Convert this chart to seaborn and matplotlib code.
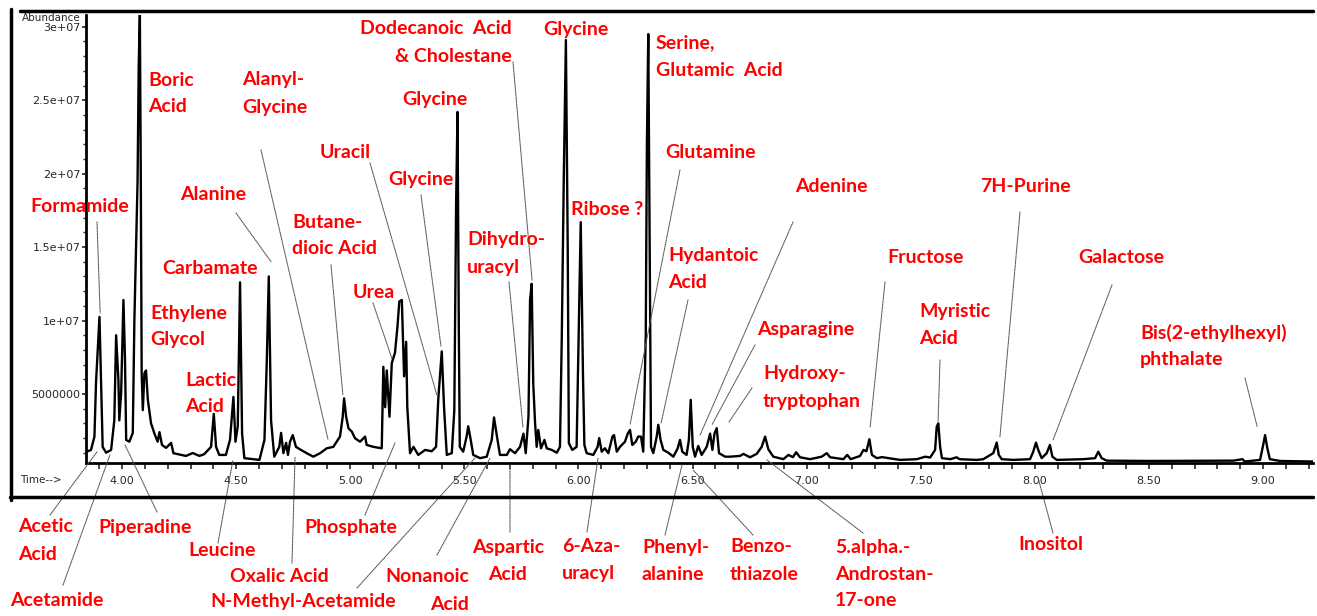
import matplotlib
matplotlib.use("Agg")
import matplotlib.pyplot as plt
from matplotlib.lines import Line2D
from matplotlib.ticker import MultipleLocator, FixedLocator
import seaborn as sns
import pandas as pd

# retention time (min) and abundance (millions)
time_min = [
    3.842, 3.864, 3.879, 3.886, 3.901, 3.908, 3.915, 3.930, 3.952, 3.966,
    3.974, 3.984, 3.988, 3.996, 4.006, 4.013, 4.018, 4.032, 4.047, 4.054,
    4.068, 4.073, 4.078, 4.082, 4.086, 4.091, 4.098, 4.105, 4.113, 4.127,
    4.142, 4.156, 4.164, 4.175, 4.193, 4.215, 4.225, 4.280, 4.310, 4.339,
    4.360, 4.390, 4.402, 4.412, 4.426, 4.455, 4.473, 4.488, 4.497, 4.507,
    4.517, 4.526, 4.536, 4.602, 4.624, 4.634, 4.643, 4.653, 4.667, 4.689,
    4.697, 4.707, 4.719, 4.727, 4.736, 4.748, 4.762, 4.784, 4.809, 4.838,
    4.868, 4.897, 4.926, 4.955, 4.967, 4.973, 4.982, 4.992, 5.007, 5.021,
    5.043, 5.065, 5.072, 5.101, 5.138, 5.145, 5.153, 5.160, 5.172, 5.182,
    5.196, 5.207, 5.215, 5.226, 5.236, 5.245, 5.250, 5.262, 5.277, 5.298,
    5.328, 5.357, 5.376, 5.386, 5.401, 5.411, 5.423, 5.445, 5.456, 5.464,
    5.470, 5.476, 5.480, 5.495, 5.510, 5.517, 5.528, 5.539, 5.569, 5.598,
    5.620, 5.630, 5.642, 5.656, 5.686, 5.700, 5.722, 5.744, 5.759, 5.769,
    5.781, 5.788, 5.795, 5.802, 5.810, 5.817, 5.824, 5.836, 5.851, 5.861,
    5.883, 5.905, 5.919, 5.927, 5.936, 5.945, 5.953, 5.958, 5.966, 5.973,
    5.992, 5.999, 6.010, 6.020, 6.026, 6.036, 6.065, 6.084, 6.091, 6.102,
    6.116, 6.131, 6.149, 6.156, 6.168, 6.182, 6.204, 6.216, 6.226, 6.236,
    6.251, 6.262, 6.274, 6.284, 6.295, 6.300, 6.306, 6.312, 6.318, 6.328,
    6.343, 6.350, 6.360, 6.372, 6.394, 6.416, 6.435, 6.445, 6.455, 6.474,
    6.484, 6.492, 6.501, 6.511, 6.525, 6.540, 6.562, 6.577, 6.587, 6.596,
    6.606, 6.616, 6.643, 6.664, 6.708, 6.723, 6.752, 6.781, 6.803, 6.818,
    6.832, 6.854, 6.898, 6.920, 6.940, 6.954, 6.971, 7.015, 7.066, 7.088,
    7.103, 7.161, 7.178, 7.193, 7.234, 7.249, 7.262, 7.275, 7.286, 7.308,
    7.330, 7.410, 7.483, 7.520, 7.541, 7.563, 7.570, 7.577, 7.585, 7.593,
    7.630, 7.657, 7.670, 7.745, 7.774, 7.818, 7.833, 7.842, 7.855, 7.906,
    7.979, 7.993, 8.005, 8.015, 8.030, 8.052, 8.066, 8.077, 8.096, 8.212,
    8.264, 8.278, 8.293, 8.315, 8.505, 8.870, 8.910, 8.920, 8.987, 8.999,
    9.009, 9.019, 9.030, 9.074, 9.220,
]
abundance_m = [
    1.05, 1.19, 2.10, 5.80, 10.25, 5.70, 1.40, 1.00, 1.19, 3.20,
    9.00, 5.95, 3.20, 5.10, 11.40, 7.30, 1.87, 1.75, 2.35, 10.00,
    19.50, 27.40, 30.80, 20.00, 6.40, 3.90, 6.40, 6.60, 4.60, 3.00,
    2.30, 1.75, 2.40, 1.53, 1.33, 1.67, 0.97, 0.78, 0.98, 0.78,
    0.90, 1.40, 3.64, 1.40, 0.85, 0.85, 1.87, 4.80, 1.75, 2.80,
    12.60, 2.30, 0.63, 0.51, 1.87, 7.10, 13.00, 3.20, 0.73, 1.40,
    2.35, 0.97, 1.67, 0.85, 1.75, 2.20, 1.40, 1.19, 0.97, 0.73,
    0.97, 1.30, 1.40, 2.10, 3.45, 4.70, 3.45, 2.67, 2.43, 1.98,
    1.75, 2.10, 1.53, 1.40, 1.30, 6.85, 4.10, 6.60, 3.45, 7.10,
    7.80, 9.60, 11.30, 11.40, 6.20, 8.55, 4.10, 0.97, 1.40, 0.85,
    1.19, 1.10, 1.40, 4.70, 7.90, 4.10, 0.85, 0.97, 3.90, 18.00,
    24.20, 8.90, 1.40, 1.07, 2.10, 2.80, 1.87, 0.85, 0.63, 0.73,
    1.87, 3.40, 2.20, 0.85, 0.85, 1.24, 0.97, 1.40, 2.30, 0.97,
    3.45, 11.40, 12.50, 5.70, 3.00, 1.40, 2.55, 1.30, 1.87, 1.30,
    1.19, 1.00, 1.40, 8.90, 20.00, 29.10, 15.00, 1.65, 1.40, 1.19,
    1.40, 7.30, 16.70, 6.20, 1.53, 0.97, 0.85, 1.40, 2.00, 1.07,
    1.30, 0.97, 2.10, 2.20, 1.07, 1.40, 1.75, 2.30, 2.55, 1.53,
    1.75, 2.10, 2.10, 1.07, 9.10, 22.00, 29.50, 15.00, 1.40, 0.97,
    2.10, 2.90, 1.87, 1.19, 1.00, 0.73, 1.30, 1.87, 1.07, 0.85,
    1.87, 4.60, 1.40, 0.73, 1.46, 0.85, 1.40, 2.30, 1.19, 2.30,
    2.67, 0.97, 0.73, 0.73, 0.78, 0.92, 0.69, 0.92, 1.40, 2.10,
    1.24, 0.73, 0.56, 0.85, 0.70, 1.03, 0.69, 0.56, 0.73, 0.97,
    0.69, 0.56, 0.85, 0.56, 0.78, 1.19, 1.10, 1.92, 0.85, 0.63,
    0.70, 0.51, 0.56, 0.73, 0.67, 1.19, 2.77, 3.00, 1.40, 0.63,
    0.56, 0.69, 0.56, 0.51, 0.56, 0.97, 1.69, 0.85, 0.56, 0.51,
    0.56, 1.07, 1.69, 1.19, 0.63, 0.97, 1.53, 0.73, 0.51, 0.56,
    0.63, 1.07, 0.63, 0.46, 0.44, 0.46, 0.56, 0.40, 0.51, 1.40,
    2.20, 1.30, 0.56, 0.44, 0.40,
]

ytick_values = [5e6, 1e7, 1.5e7, 2e7, 2.5e7, 3e7]
ytick_labels = ['5000000', '1e+07', '1.5e+07', '2e+07', '2.5e+07', '3e+07']

# compound labels: text, x px, y px (first line centre), alignment
labels = [
    ('Formamide', 30, 206, 'left'),
    ('Boric\nAcid', 148, 80, 'left'),
    ('Alanyl-\nGlycine', 242, 80, 'left'),
    ('Alanine', 180, 195, 'left'),
    ('Carbamate', 162, 268, 'left'),
    ('Ethylene\nGlycol', 150, 313, 'left'),
    ('Lactic\nAcid', 185, 380, 'left'),
    ('Butane-\ndioic Acid', 292, 222, 'left'),
    ('Uracil', 320, 152, 'left'),
    ('Urea', 353, 292, 'left'),
    ('Glycine', 388, 180, 'left'),
    ('Glycine', 402, 99, 'left'),
    ('Dodecanoic  Acid\n& Cholestane', 512, 29, 'right'),
    ('Glycine', 543, 29, 'left'),
    ('Dihydro-\nuracyl', 467, 240, 'left'),
    ('Ribose ?', 571, 210, 'left'),
    ('Serine,\nGlutamic  Acid', 656, 43, 'left'),
    ('Glutamine', 665, 152, 'left'),
    ('Hydantoic\nAcid', 668, 256, 'left'),
    ('Adenine', 795, 186, 'left'),
    ('Asparagine', 757, 330, 'left'),
    ('Hydroxy-\ntryptophan', 763, 374, 'left'),
    ('Fructose', 887, 258, 'left'),
    ('Myristic\nAcid', 919, 312, 'left'),
    ('7H-Purine', 980, 186, 'left'),
    ('Galactose', 1078, 258, 'left'),
    ('Bis(2-ethylhexyl)\nphthalate', 1140, 333, 'left'),
    ('Acetic\nAcid', 18, 527, 'left'),
    ('Acetamide', 10, 600, 'left'),
    ('Piperadine', 98, 527, 'left'),
    ('Leucine', 188, 551, 'left'),
    ('Oxalic Acid', 230, 577, 'left'),
    ('N-Methyl-Acetamide', 210, 602, 'left'),
    ('Phosphate', 304, 527, 'left'),
    ('Nonanoic\nAcid', 469, 577, 'right'),
    ('Aspartic\nAcid', 508, 547, 'center'),
    ('6-Aza-\nuracyl', 562, 547, 'left'),
    ('Phenyl-\nalanine', 642, 547, 'left'),
    ('Benzo-\nthiazole', 730, 547, 'left'),
    ('5.alpha.-\nAndrostan-\n17-one', 835, 547, 'left'),
    ('Inositol', 1018, 545, 'left'),
]

# leader lines: start (x px, y px) -> peak (time, abundance in millions)
leaders = [
    (97, 222, 3.904, 10.5), (261, 150, 4.903, 1.87), (236, 213, 4.653, 14.0),
    (331, 265, 4.968, 4.9), (370, 163, 5.380, 4.9), (373, 303, 5.183, 7.4),
    (421, 195, 5.398, 8.2), (513, 62, 5.797, 12.7), (509, 282, 5.757, 2.7),
    (680, 170, 6.226, 2.9), (688, 300, 6.362, 3.0), (793, 222, 6.533, 2.2),
    (755, 345, 6.585, 2.9), (752, 388, 6.660, 3.1), (885, 282, 7.278, 2.7),
    (940, 360, 7.576, 3.1), (1020, 212, 7.847, 2.07), (1112, 285, 8.080, 1.87),
    (1245, 378, 8.974, 2.8), (50, 515, 3.890, 1.05), (63, 585, 3.947, 0.85),
    (157, 512, 4.013, 1.53), (218, 543, 4.486, 0.51), (292, 563, 4.758, 0.7),
    (357, 588, 5.547, 0.65), (365, 515, 5.196, 1.67), (437, 555, 5.613, 0.65),
    (510, 532, 5.700, 0.17), (587, 532, 6.086, 0.65), (665, 535, 6.454, 0.17),
    (753, 535, 6.502, -0.17), (863, 533, 6.826, 0.51), (1053, 533, 8.014, -0.7),
]

W, H = 1317, 616
sns.set_style("white")
plt.rcParams['font.family'] = ['DejaVu Sans']

fig = plt.figure(figsize=(W / 100, H / 100), dpi=100)
ax = fig.add_axes([86 / W, 1 - 463 / H, (1313 - 86) / W, (463 - 15) / H])

df = pd.DataFrame({'time': time_min, 'abundance': [a * 1e6 for a in abundance_m]})
sns.lineplot(data=df, x='time', y='abundance', ax=ax, color='black', lw=1.7,
             estimator=None, sort=False)

ax.set_xlim(3.842, 9.219)
ax.set_ylim(0.3e6, 30.8e6)
ax.set_xlabel('')
ax.set_ylabel('')

ax.xaxis.set_major_locator(MultipleLocator(0.5))
ax.xaxis.set_minor_locator(MultipleLocator(0.1))
ax.xaxis.set_major_formatter(lambda v, p: f'{v:.2f}')
ax.yaxis.set_major_locator(FixedLocator(ytick_values))
ax.set_yticklabels(ytick_labels)
ax.yaxis.set_minor_locator(MultipleLocator(1e6))
ax.tick_params(axis='x', which='both', direction='out', length=4, width=1.2,
               pad=5, labelsize=8, bottom=True)
ax.tick_params(axis='y', which='major', direction='out', length=3, width=1.2,
               pad=1, labelsize=8, left=True)
ax.tick_params(axis='y', which='minor', direction='out', length=2, width=1, left=True)

for side in ['top', 'right']:
    ax.spines[side].set_visible(False)
for side in ['left', 'bottom']:
    ax.spines[side].set_linewidth(2)
    ax.spines[side].set_color('black')


def fig_line(x0, y0, x1, y1, **kw):
    fig.add_artist(Line2D([x0 / W, x1 / W], [1 - y0 / H, 1 - y1 / H],
                          transform=fig.transFigure, **kw))


# outer frame of the instrument printout
fig_line(20, 11, 1313, 11, color='black', lw=2.5)
fig_line(11, 9, 11, 500, color='black', lw=2.5)
fig_line(10, 497, 1313, 497, color='black', lw=2.5)

fig.text(22 / W, 1 - 18 / H, 'Abundance', fontsize=7.5, ha='left', va='center')
fig.text(20 / W, 1 - 480 / H, 'Time-->', fontsize=7.5, ha='left', va='center')

for x0, y0, t, a in leaders:
    ax.annotate('', xy=(t, a * 1e6), xycoords='data',
                xytext=(x0, H - y0), textcoords='figure pixels',
                arrowprops=dict(arrowstyle='-', color='#555555', lw=0.8,
                                linestyle=(0, (1, 1)), shrinkA=0, shrinkB=0),
                annotation_clip=False)

for text, x, y, ha in labels:
    for i, line in enumerate(text.split('\n')):
        fig.text(x / W, 1 - (y + 27 * i) / H, line, ha=ha, va='center',
                 color='#ff0000', fontsize=14, fontweight='bold', family=['Lato', 'DejaVu Sans'])

fig.savefig('out.png', dpi=100, facecolor='white')
